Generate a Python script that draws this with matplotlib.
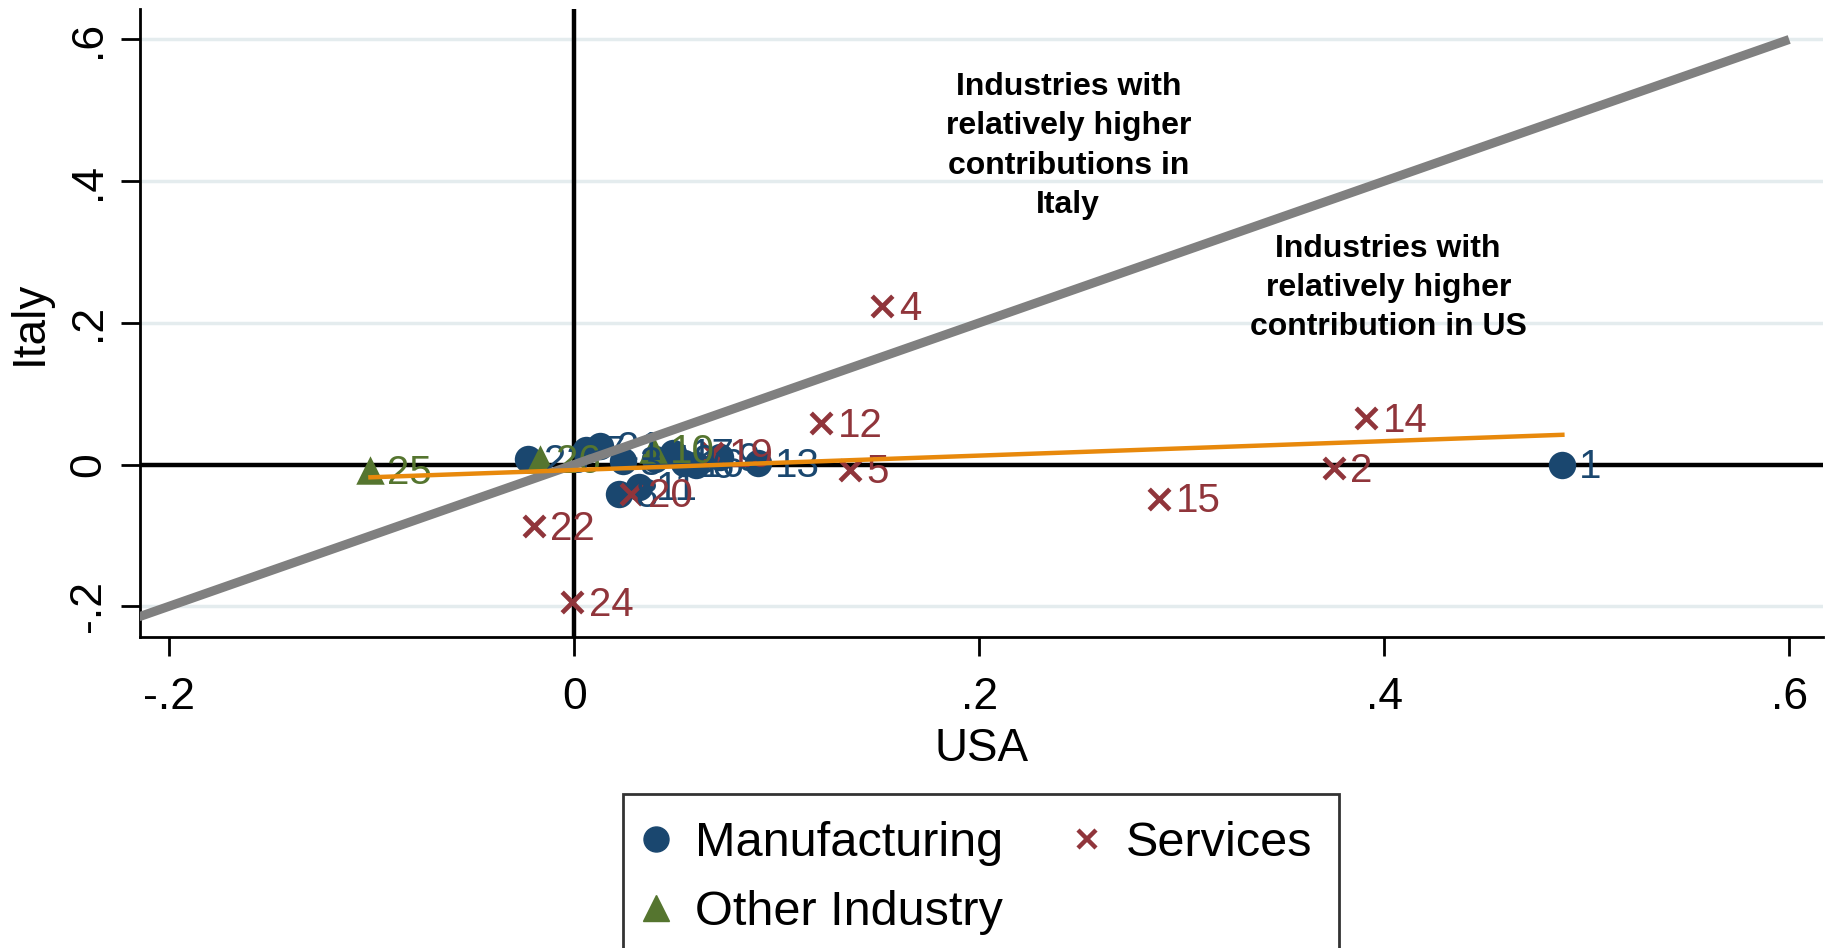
import matplotlib
matplotlib.use("Agg")
import matplotlib.pyplot as plt
from matplotlib.lines import Line2D

plt.rcParams['font.family'] = ['Liberation Sans', 'DejaVu Sans']

# Industry contributions: USA (x) vs Italy (y)
manuf_id = ["1", "23", "21", "7", "3", "18", "17", "16", "6", "9", "8", "11", "13"]
manuf_usa = [0.488, -0.023, 0.013, 0.006, 0.024, 0.040, 0.049, 0.054, 0.060, 0.072, 0.022, 0.032, 0.091]
manuf_ita = [0.000, 0.008, 0.026, 0.020, 0.005, 0.008, 0.016, 0.002, 0.000, 0.010, -0.041, -0.031, 0.002]

serv_id = ["2", "4", "5", "12", "14", "15", "19", "20", "22", "24"]
serv_usa = [0.375, 0.152, 0.136, 0.122, 0.391, 0.289, 0.068, 0.028, -0.020, -0.001]
serv_ita = [-0.005, 0.224, -0.007, 0.058, 0.066, -0.048, 0.016, -0.041, -0.087, -0.194]

other_id = ["10", "25", "26"]
other_usa = [0.039, -0.1006, -0.017]
other_ita = [0.022, -0.008, 0.008]

# fitted line and 45-degree reference
fit_usa = [-0.1006, 0.488]
fit_ita = [-0.018, 0.042]
diag = [-0.215, 0.6]

navy = "#1a476f"
maroon = "#90353b"
green = "#55752f"
orange = "#e8890c"
grey = "#808080"

fig = plt.figure(figsize=(18.26, 9.48), dpi=100)
ax = fig.add_axes([140 / 1826, 1 - 637 / 948, 1683 / 1826, 628 / 948])

ax.set_xlim(-0.2144, 0.6167)
ax.set_ylim(-0.2434, 0.643)

for g in [-0.2, 0.2, 0.4, 0.6]:
    ax.axhline(g, color="#e4ecee", lw=2.5, zorder=0)
ax.axhline(0, color="black", lw=3.2, zorder=1)
ax.axvline(0, color="black", lw=3.2, zorder=1)

ax.scatter(manuf_usa, manuf_ita, s=390, marker="o", color=navy, lw=0, zorder=2)
ax.scatter(other_usa, other_ita, s=420, marker="^", color=green, lw=0, zorder=2)
ax.scatter(serv_usa, serv_ita, s=220, marker="x", color=maroon, lw=3.4, zorder=2)

groups = [(manuf_id, manuf_usa, manuf_ita, navy),
          (serv_id, serv_usa, serv_ita, maroon),
          (other_id, other_usa, other_ita, green)]
for ids, xs, ys, col in groups:
    for lab, x, y in zip(ids, xs, ys):
        ax.annotate(lab, (x, y), xytext=(12, -2), textcoords="offset points",
                    ha="left", va="center", fontsize=29, color=col, zorder=2)

ax.plot(diag, diag, color=grey, lw=6.5, solid_capstyle="butt", zorder=3)
ax.plot(fit_usa, fit_ita, color=orange, lw=3.2, zorder=4)

ax.text(0.244, 0.4495, "Industries with\nrelatively higher\ncontributions in\nItaly",
        ha="center", va="center", fontsize=23, fontweight="bold", linespacing=1.4)
ax.text(0.402, 0.2495, "Industries with\nrelatively higher\ncontribution in US",
        ha="center", va="center", fontsize=23, fontweight="bold", linespacing=1.4)

ax.set_xticks([-0.2, 0, 0.2, 0.4, 0.6])
ax.set_xticklabels(["-.2", "0", ".2", ".4", ".6"])
ax.set_yticks([-0.2, 0, 0.2, 0.4, 0.6])
ax.set_yticklabels(["-.2", "0", ".2", ".4", ".6"], rotation=90, va="center")
ax.tick_params(axis="x", labelsize=32, length=14, width=2, direction="out", pad=15)
ax.tick_params(axis="y", labelsize=32, length=14, width=2, direction="out", pad=8)
for s in ["top", "right"]:
    ax.spines[s].set_visible(False)
for s in ["left", "bottom"]:
    ax.spines[s].set_linewidth(2)

ax.set_xlabel("USA", fontsize=33, labelpad=6)
ax.set_ylabel("Italy", fontsize=33, labelpad=12)

handles = [
    Line2D([], [], ls="none", marker="o", ms=18, color=navy),
    Line2D([], [], ls="none", marker="^", ms=19, color=green),
    Line2D([], [], ls="none", marker="x", ms=13, mew=3.2, color=maroon),
]
leg = fig.legend(handles, ["Manufacturing", "Other Industry", "Services"], ncol=2,
                 loc="upper left", bbox_to_anchor=(623 / 1826, 1 - 794 / 948),
                 fontsize=35, frameon=True, fancybox=False, edgecolor="black",
                 borderaxespad=0, handlelength=0.25, handletextpad=0.68,
                 columnspacing=1.6, labelspacing=0.5, borderpad=0.55)
leg.get_frame().set_linewidth(2)

fig.savefig("out.png", dpi=100)
